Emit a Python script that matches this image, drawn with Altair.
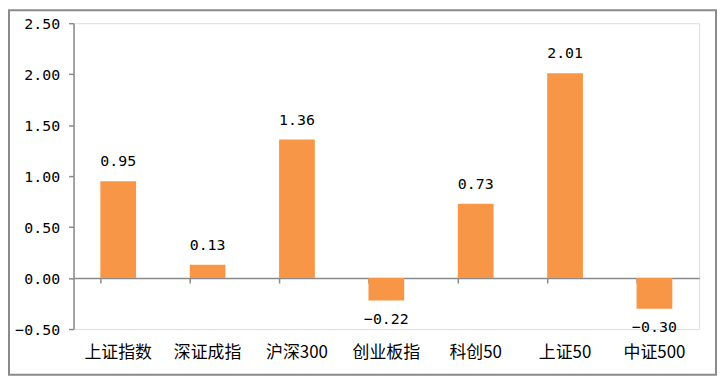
import altair as alt
import pandas as pd

categories = ["上证指数", "深证成指", "沪深300", "创业板指", "科创50", "上证50", "中证500"]
values = [0.95, 0.13, 1.36, -0.22, 0.73, 2.01, -0.30]
y_ticks = [-0.5, 0.0, 0.5, 1.0, 1.5, 2.0, 2.5]

df = pd.DataFrame({"cat": categories, "val": values})

FONT = "Noto Sans CJK SC"
NUM_FONT = "DejaVu Sans Mono"
W, H = 630, 308
zero_offset = -(H * 0.5 / 3.0)

x_enc = alt.X(
    "cat:N",
    sort=categories,
    scale=alt.Scale(paddingInner=0.6, paddingOuter=0.3),
    axis=alt.Axis(
        title=None,
        orient="bottom",
        offset=zero_offset,
        domainColor="#8a8a8a",
        domainWidth=1.5,
        tickColor="#8a8a8a",
        tickWidth=1.5,
        tickSize=5,
        bandPosition=0,
        labelAngle=0,
        labelPadding=62,
        labelFont=FONT,
        labelFontSize=17,
        labelColor="#000000",
        labelBaseline="top",
    ),
)

y_enc = alt.Y(
    "val:Q",
    scale=alt.Scale(domain=[-0.5, 2.5], nice=False, zero=False),
    axis=alt.Axis(
        title=None,
        values=y_ticks,
        format=".2f",
        grid=False,
        domainColor="#8a8a8a",
        domainWidth=1.5,
        tickColor="#8a8a8a",
        tickWidth=1.5,
        tickSize=5,
        labelPadding=9,
        labelFont=NUM_FONT,
        labelFontSize=15,
        labelColor="#000000",
    ),
)

base = alt.Chart(df)

bars = base.mark_bar(color="#F79646").encode(x=x_enc, y=y_enc)

pos_labels = base.transform_filter("datum.val >= 0").mark_text(
    font=NUM_FONT, fontSize=15, color="#000000", baseline="middle", dy=-20
).encode(x=alt.X("cat:N", sort=categories), y="val:Q", text=alt.Text("val:Q", format=".2f"))

neg_labels = base.transform_filter("datum.val < 0").mark_text(
    font=NUM_FONT, fontSize=15, color="#000000", baseline="middle", dy=19
).encode(x=alt.X("cat:N", sort=categories), y="val:Q", text=alt.Text("val:Q", format=".2f"))

border = alt.Chart(pd.DataFrame({"a": [0]})).mark_rect(
    fill=None, stroke="#8a8a8a", strokeWidth=2, clip=False
).encode(
    x=alt.value(-65),
    x2=alt.value(647),
    y=alt.value(-13),
    y2=alt.value(354),
)

chart = alt.layer(bars, pos_labels, neg_labels, border).properties(
    width=W,
    height=H,
    autosize=alt.AutoSizeParams(type="none"),
    padding={"left": 66, "top": 14, "right": 19, "bottom": 48},
).configure_view(stroke=None).configure(background="#ffffff")

chart.save("out.html", embed_options={"renderer": "svg", "actions": False})
